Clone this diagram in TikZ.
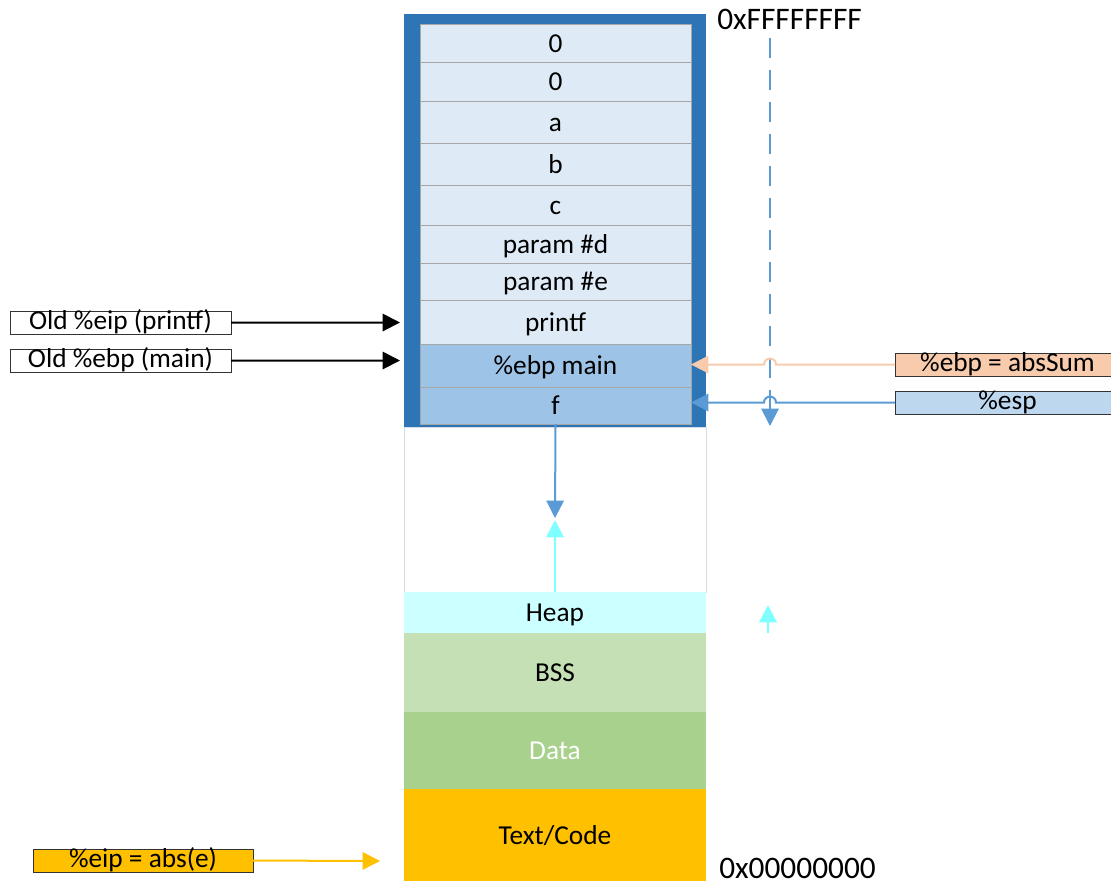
\documentclass[tikz,border=0pt]{standalone}
\usepackage{fontspec}
\setmainfont{Carlito}
\usetikzlibrary{arrows.meta,calc}

\definecolor{frameblue}{HTML}{2E75B6}
\definecolor{celllight}{HTML}{DEEBF7}
\definecolor{celldark}{HTML}{9DC3E6}
\definecolor{cellline}{HTML}{A6A6A6}
\definecolor{arrowblue}{HTML}{5B9BD5}
\definecolor{heapfill}{HTML}{CCFFFF}
\definecolor{heaparrow}{HTML}{7FFFFF}
\definecolor{bssfill}{HTML}{C5E0B4}
\definecolor{datafill}{HTML}{A9D18E}
\definecolor{codefill}{HTML}{FFC000}
\definecolor{ebpfill}{HTML}{F8CBAD}
\definecolor{espfill}{HTML}{BDD7EE}
\definecolor{gapline}{HTML}{D6DCE4}

\begin{document}
\begin{tikzpicture}[
  x=0.75pt, y=-0.75pt,
  txt/.style={font=\fontsize{20.5}{22}\selectfont, text height=16pt, text depth=2.5pt},
  addr/.style={font=\fontsize{23.5}{25}\selectfont, inner sep=0pt, anchor=west},
  region/.style={txt, anchor=north west, inner sep=0pt, outer sep=0pt,
                 minimum width=302*0.75pt},
  cell/.style={txt, anchor=north west, inner sep=0pt, outer sep=0pt,
               minimum width=271*0.75pt, draw=cellline, line width=0.6pt,
               fill=celllight},
  tag/.style={txt, text height=14pt, text depth=3.3pt, anchor=north west,
              inner sep=0pt, outer sep=0pt,
              draw=black!80, line width=0.6pt, minimum height=23*0.75pt},
  tip/.style={-{Triangle[length=13pt,width=13pt]}},
  blackarrow/.style={tip, draw=black, line width=1.5pt},
]
\useasboundingbox (0,0) rectangle (1111,886);

% stack frame
\node[region, fill=frameblue, minimum height=413*0.75pt] (frame) at (404,14) {};

% stack cells
\node[cell, minimum height=38*0.75pt] (c1) at (420,24) {0};
\node[cell, minimum height=39*0.75pt] (c2) at (420,62) {0};
\node[cell, minimum height=42*0.75pt] (c3) at (420,101) {a};
\node[cell, minimum height=42*0.75pt] (c4) at (420,143) {b};
\node[cell, minimum height=40*0.75pt] (c5) at (420,185) {c};
\node[cell, minimum height=38*0.75pt] (c6) at (420,225) {param \#d};
\node[cell, minimum height=37*0.75pt] (c7) at (420,263) {param \#e};
\node[cell, minimum height=44*0.75pt] (c8) at (420,300) {printf};
\node[cell, fill=celldark, minimum height=43*0.75pt] (c9) at (420,344) {\%ebp main};
\node[cell, fill=celldark, minimum height=37*0.75pt] (c10) at (420,387) {f};

% free space, heap and lower segments
\node[region, draw=gapline, line width=0.6pt, minimum height=165*0.75pt] (gap) at (404,427) {};
\node[region, fill=heapfill, minimum height=41*0.75pt] (heap) at (404,592) {Heap};
\node[region, fill=bssfill, minimum height=79*0.75pt] (bss) at (404,633) {BSS};
\node[region, fill=datafill, text=white, minimum height=77*0.75pt] (data) at (404,712) {Data};
\node[region, fill=codefill, minimum height=92*0.75pt] (code) at (404,789) {Text/Code};

% address labels
\node[addr] (top) at (717,19) {0xFFFFFFFF};
\node[addr] (bottom) at (719,868) {0x00000000};

% register tags on the left
\node[tag, fill=white, minimum width=221*0.75pt] (oldeip) at (10,311) {Old \%eip (printf)};
\node[tag, fill=white, minimum width=221*0.75pt] (oldebp) at (10,349) {Old \%ebp (main)};
\node[tag, fill=codefill, minimum width=220*0.75pt] (eip) at (33,849) {\%eip = abs(e)};

% register tags on the right
\node[tag, fill=ebpfill, minimum width=225*0.75pt] (ebp) at (895,353) {\%ebp = absSum};
\node[tag, fill=espfill, minimum width=225*0.75pt] (esp) at (895,391) {\%esp};

% arrow end points
\coordinate (eiptarget) at (400,322.5);
\coordinate (ebptarget) at (400,360.5);
\coordinate (codetarget) at (380,861);
\coordinate (hop) at (770,0);
\coordinate (growtop) at (770,38);
\coordinate (growbottom) at (770,426);
\coordinate (stackmeet) at (555,518);
\coordinate (heapmeet) at (555,520);
\coordinate (heaptail) at (768,633);
\coordinate (heaptip) at (768,605);

% growth direction of the stack
\draw[tip, arrowblue, line width=1.5pt, dash pattern=on 15pt off 9pt] (growtop) -- (growbottom);

% register pointers, hopping over the growth line
\draw[tip, ebpfill, line width=1.5pt]
  (ebp.west) -- ($(ebp.west -| hop)+(6,0)$)
  arc[start angle=0, end angle=180, radius=4.5pt] -- (c9.east |- ebp.west);
\draw[tip, arrowblue, line width=1.5pt]
  (esp.west) -- ($(esp.west -| hop)+(6,0)$)
  arc[start angle=0, end angle=180, radius=4.5pt] -- (c10.east |- esp.west);

% left pointers
\draw[blackarrow] (oldeip.east) -- (eiptarget);
\draw[blackarrow] (oldebp.east) -- (ebptarget);
\draw[tip, codefill, line width=1.5pt] (eip.east) -- (codetarget);

% stack and heap growth
\draw[tip, arrowblue, line width=1.5pt] (c10.south) -- (stackmeet);
\draw[tip, heaparrow, line width=1.5pt] (heap.north) -- (heapmeet);
\draw[tip, heaparrow, line width=1.5pt] (heaptail) -- (heaptip);
\end{tikzpicture}
\end{document}
